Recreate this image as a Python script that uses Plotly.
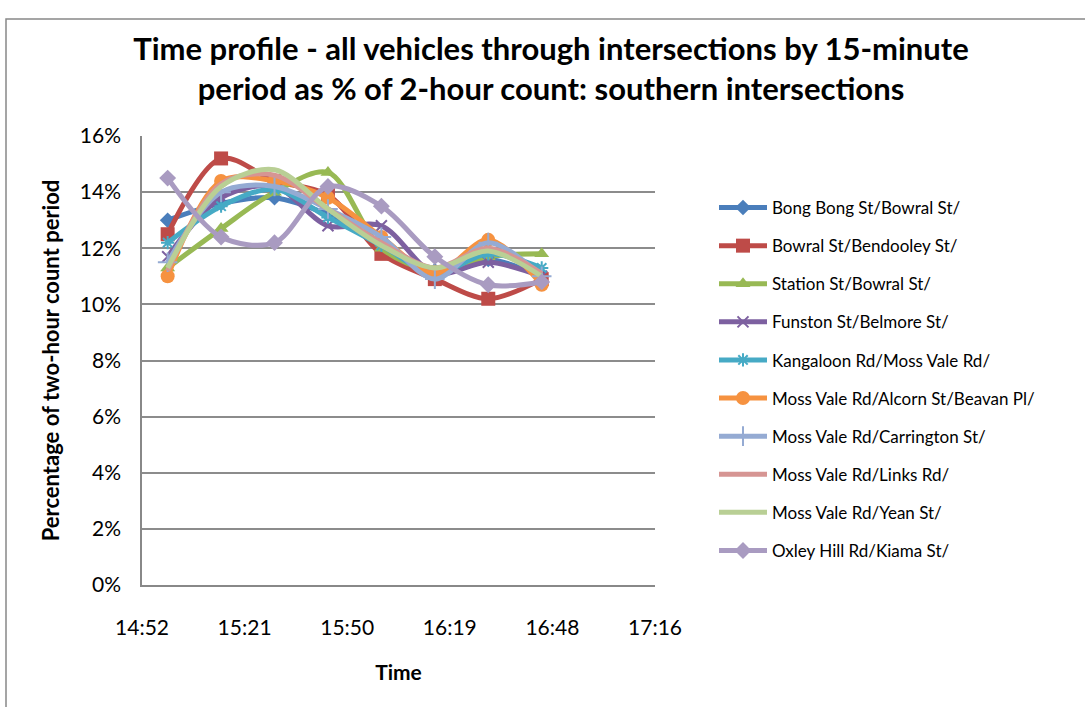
import plotly.graph_objects as go

times = ["15:00", "15:15", "15:30", "15:45", "16:00", "16:15", "16:30", "16:45"]

series_names = [
    "Bong Bong St/Bowral St/",
    "Bowral St/Bendooley St/",
    "Station St/Bowral St/",
    "Funston St/Belmore St/",
    "Kangaloon Rd/Moss Vale Rd/",
    "Moss Vale Rd/Alcorn St/Beavan Pl/",
    "Moss Vale Rd/Carrington St/",
    "Moss Vale Rd/Links Rd/",
    "Moss Vale Rd/Yean St/",
    "Oxley Hill Rd/Kiama St/",
]

bong_bong = [13.0, 13.6, 13.8, 13.2, 12.2, 11.2, 11.6, 11.0]
bowral_bendooley = [12.5, 15.2, 14.4, 13.9, 11.8, 10.9, 10.2, 10.9]
station = [11.3, 12.7, 14.0, 14.7, 12.0, 11.2, 11.7, 11.8]
funston = [11.7, 13.8, 14.2, 12.8, 12.8, 11.1, 11.5, 11.0]
kangaloon = [12.2, 13.5, 14.1, 13.1, 12.1, 11.1, 11.8, 11.3]
alcorn = [11.0, 14.4, 14.4, 13.8, 12.4, 11.1, 12.3, 10.7]
carrington = [11.5, 14.0, 14.2, 13.4, 12.4, 10.9, 12.2, 11.0]
links = [11.2, 14.3, 14.6, 13.4, 12.2, 11.3, 12.0, 11.1]
yean = [11.3, 14.2, 14.8, 13.4, 12.1, 11.3, 11.9, 11.0]
oxley = [14.5, 12.4, 12.2, 14.2, 13.5, 11.7, 10.7, 10.8]

all_values = [bong_bong, bowral_bendooley, station, funston, kangaloon,
              alcorn, carrington, links, yean, oxley]

y_ticks = [0, 2, 4, 6, 8, 10, 12, 14, 16]
y_tick_labels = ["0%", "2%", "4%", "6%", "8%", "10%", "12%", "14%", "16%"]
x_tick_labels = ["14:52", "15:21", "15:50", "16:19", "16:48", "17:16"]
x_tick_times = ["14:52:48", "15:21:36", "15:50:24", "16:19:12", "16:48:00", "17:16:48"]

colors = ["#4A7EBB", "#BE4B48", "#98B954", "#7D60A0", "#46AAC5", "#F69240",
          "#95ABD3", "#D69593", "#B9CF95", "#A99BC1"]
symbols = ["diamond", "square", "triangle-up", "x-thin", "asterisk", "circle",
           "cross-thin", None, None, "diamond"]
sizes = [12, 14, 13, 11, 11, 14, 14, 0, 0, 13]

day = "2000-01-01 "
x_vals = [day + t for t in times]

fig = go.Figure()
for i, (name, vals) in enumerate(zip(series_names, all_values)):
    sym = symbols[i]
    mode = "lines+markers" if sym else "lines"
    marker = dict(color=colors[i], size=sizes[i], symbol=sym or "circle")
    if sym and (sym.endswith("thin") or sym == "asterisk"):
        marker["line"] = dict(color=colors[i], width=2)
    fig.add_trace(go.Scatter(
        x=x_vals, y=vals, name=name, mode=mode,
        line=dict(color=colors[i], width=5, shape="spline", smoothing=0.9),
        marker=marker if sym else None,
        legendgroup=name,
    ))

L, R, T, B = 142, 430, 136, 122
W, H = 1085, 707
pw = W - L - R
ph = H - T - B


def py(p):
    """pixel-from-top to paper y fraction"""
    return (H - B - p) / ph


def px(p):
    return (p - L) / pw


fig.update_layout(
    width=W, height=H,
    margin=dict(l=L, r=R, t=T, b=B),
    paper_bgcolor="white", plot_bgcolor="white",
    font=dict(family="Lato, Open Sans, sans-serif", size=16, color="black"),
    title=dict(
        text="<b>Time profile - all vehicles through intersections by 15-minute<br>period as % of 2-hour count: southern intersections</b>",
        x=551 / W, xanchor="center", y=1 - 60 / H, yanchor="middle",
        font=dict(size=31, family="Lato, Open Sans, sans-serif"),
    ),
    xaxis=dict(
        type="date",
        range=[day + "14:52:48", day + "17:16:48"],
        tickvals=[day + t for t in x_tick_times],
        ticktext=x_tick_labels,
        showgrid=False, showline=True, linecolor="#888888", linewidth=1.5,
        ticks="", tickfont=dict(size=21), ticklabelstandoff=23,
        title=dict(text="<b>Time</b>", font=dict(size=21), standoff=27),
    ),
    yaxis=dict(
        range=[0, 16], tickvals=y_ticks, ticktext=y_tick_labels,
        showgrid=True, gridcolor="#8C8C8C", gridwidth=1.5,
        showline=True, linecolor="#888888", linewidth=1.5,
        ticks="", tickfont=dict(size=21), zeroline=False, ticklabelstandoff=15,
        title=dict(text="<b>Percentage of two-hour count period</b>", font=dict(size=22), standoff=14),
    ),
    legend=dict(
        x=px(714), y=py(190), xanchor="left", yanchor="top",
        font=dict(size=17), tracegroupgap=13, itemwidth=48,
        bgcolor="rgba(0,0,0,0)",
    ),
    showlegend=True,
)

# outer chart border
fig.add_shape(type="rect", xref="paper", yref="paper",
              x0=px(6), x1=px(1092), y0=py(720), y1=py(19),
              line=dict(color="#888888", width=1.5), fillcolor="rgba(0,0,0,0)",
              layer="below")

fig.write_html("out.html", config={"displayModeBar": False},
               post_script="document.body.style.margin='0';document.body.style.overflow='hidden';")
